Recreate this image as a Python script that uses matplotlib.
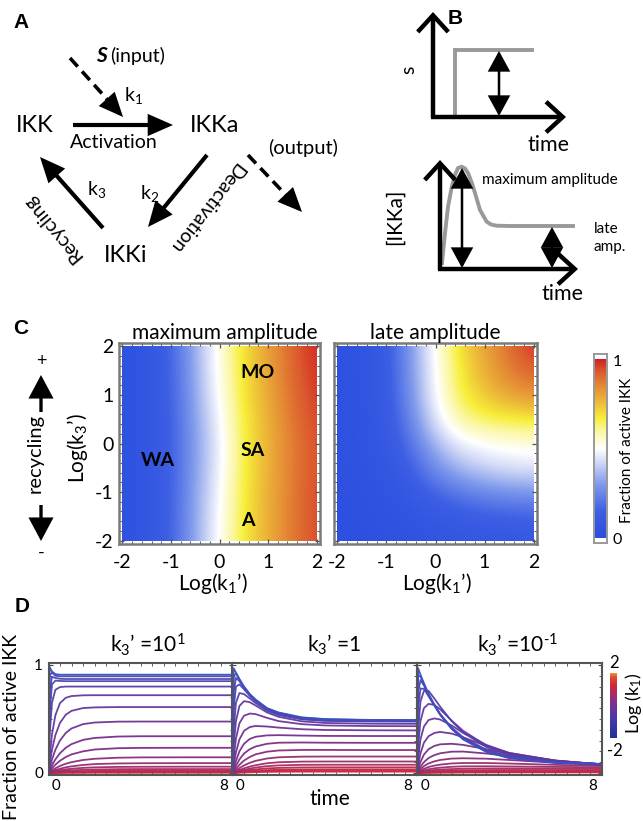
import numpy as np
import matplotlib
matplotlib.use('Agg')
import matplotlib.pyplot as plt
from matplotlib.colors import LinearSegmentedColormap
from matplotlib.patches import Rectangle
from matplotlib.ticker import MultipleLocator

plt.rcParams['font.family'] = ['Lato', 'DejaVu Sans']
plt.rcParams['mathtext.fontset'] = 'custom'
plt.rcParams['mathtext.rm'] = 'Lato'
plt.rcParams['mathtext.it'] = 'Lato:italic'
plt.rcParams['mathtext.bf'] = 'Lato:bold'

W, H = 643, 821

#################################################################
# donnees panneau C (cartes de chaleur)

log_k1 = [-2, -1.5, -1, -0.5, 0, 0.5, 1, 1.5, 2]
log_k3_max = [-2, -1, 0, 1, 2]
max_amp = [
    [0.03, 0.07, 0.15, 0.33, 0.51, 0.68, 0.78, 0.88, 0.95],
    [0.03, 0.07, 0.15, 0.32, 0.49, 0.68, 0.78, 0.88, 0.95],
    [0.03, 0.07, 0.14, 0.30, 0.46, 0.66, 0.77, 0.87, 0.94],
    [0.03, 0.07, 0.15, 0.33, 0.51, 0.69, 0.79, 0.90, 0.97],
    [0.03, 0.07, 0.16, 0.34, 0.53, 0.70, 0.81, 0.92, 0.99],
]
log_k3_late = [-2, -1.5, -1, -0.5, 0, 0.5, 1, 1.5, 2]
late_amp = [
    [0.02, 0.02, 0.03, 0.04, 0.06, 0.07, 0.08, 0.08, 0.09],
    [0.02, 0.03, 0.04, 0.06, 0.09, 0.12, 0.14, 0.15, 0.16],
    [0.02, 0.03, 0.05, 0.10, 0.17, 0.22, 0.26, 0.28, 0.29],
    [0.03, 0.04, 0.07, 0.15, 0.27, 0.36, 0.41, 0.44, 0.45],
    [0.03, 0.05, 0.09, 0.20, 0.36, 0.47, 0.50, 0.52, 0.53],
    [0.03, 0.05, 0.10, 0.25, 0.45, 0.60, 0.65, 0.67, 0.68],
    [0.03, 0.05, 0.11, 0.28, 0.49, 0.66, 0.74, 0.80, 0.84],
    [0.03, 0.05, 0.11, 0.29, 0.50, 0.68, 0.78, 0.87, 0.92],
    [0.03, 0.05, 0.12, 0.30, 0.51, 0.70, 0.80, 0.90, 0.98],
]
heat_ticks = [-2, -1, 0, 1, 2]
heat_titles = ['maximum amplitude', 'late amplitude']

#################################################################
# donnees panneau D (cinetiques)

t_sim = [0, 0.05, 0.15, 0.3, 0.5, 0.75, 1, 1.5, 2, 3, 4, 6, 8]

curves_k3_10 = [
    [0, .98, .94, .915, .91, .91, .91, .91, .91, .91, .91, .91, .91],
    [0, .90, .93, .900, .895, .895, .895, .895, .895, .895, .895, .895, .895],
    [0, .75, .89, .880, .872, .87, .87, .87, .87, .87, .87, .87, .87],
    [0, .55, .82, .855, .852, .85, .85, .85, .85, .85, .85, .85, .85],
    [0, .35, .65, .770, .795, .80, .80, .80, .80, .80, .80, .80, .80],
    [0, .146, .355, .535, .647, .696, .712, .719, .72, .72, .72, .72, .72],
    [0, .081, .213, .351, .464, .539, .575, .601, .607, .61, .61, .61, .61],
    [0, .045, .123, .215, .301, .370, .412, .452, .467, .475, .476, .476, .476],
    [0, .025, .070, .126, .183, .233, .267, .306, .324, .337, .34, .34, .34],
    [0, .015, .042, .077, .113, .147, .172, .200, .217, .229, .232, .233, .233],
    [0, .008, .023, .043, .065, .085, .100, .120, .131, .141, .144, .145, .145],
    [0, .005, .015, .026, .039, .052, .061, .074, .082, .088, .090, .091, .091],
    [0, .003, .009, .017, .025, .033, .039, .047, .052, .056, .057, .058, .058],
    [0, .002, .006, .010, .015, .021, .024, .029, .032, .035, .036, .036, .036],
    [0, .001, .003, .006, .009, .012, .014, .017, .019, .020, .021, .021, .021],
    [0, .001, .002, .003, .005, .007, .008, .010, .011, .012, .012, .012, .012],
    [0, 0, .001, .002, .003, .004, .004, .005, .006, .006, .006, .006, .006],
    [0, 0, 0, .001, .001, .002, .002, .002, .003, .003, .003, .003, .003],
]

curves_k3_1 = [
    [0, .97, .93, .87, .80, .73, .68, .60, .56, .515, .499, .491, .49],
    [0, .90, .92, .865, .795, .727, .676, .597, .556, .512, .497, .489, .488],
    [0, .75, .88, .85, .79, .722, .672, .594, .552, .508, .493, .486, .485],
    [0, .60, .80, .82, .775, .713, .664, .587, .545, .502, .487, .481, .48],
    [0, .40, .65, .74, .73, .69, .648, .576, .536, .496, .482, .477, .476],
    [0, .25, .48, .62, .665, .655, .625, .56, .52, .478, .463, .456, .455],
    [0, .13, .32, .46, .53, .55, .545, .51, .48, .452, .440, .434, .433],
    [0, .07, .19, .31, .39, .425, .435, .43, .42, .405, .398, .395, .394],
    [0, .04, .11, .20, .27, .315, .335, .348, .35, .346, .343, .342, .342],
    [0, .02, .065, .125, .18, .22, .245, .27, .28, .282, .28, .279, .279],
    [0, .012, .038, .075, .115, .148, .172, .197, .208, .213, .213, .212, .212],
    [0, .007, .022, .045, .07, .094, .112, .134, .145, .151, .152, .152, .152],
    [0, .004, .013, .027, .043, .059, .072, .09, .099, .105, .106, .106, .106],
    [0, .003, .009, .018, .029, .04, .05, .063, .07, .075, .076, .076, .076],
    [0, .002, .006, .012, .019, .027, .033, .042, .047, .051, .052, .052, .052],
    [0, .001, .004, .008, .012, .017, .021, .026, .03, .032, .033, .033, .033],
    [0, .001, .002, .005, .008, .011, .013, .017, .019, .021, .021, .021, .021],
    [0, 0, .001, .003, .004, .006, .008, .01, .011, .012, .012, .012, .012],
]

curves_k3_01 = [
    [0, .97, .91, .83, .73, .63, .54, .41, .31, .195, .137, .094, .083],
    [0, .90, .895, .825, .73, .63, .542, .41, .315, .20, .14, .095, .083],
    [0, .75, .86, .81, .725, .63, .545, .415, .32, .205, .145, .097, .082],
    [0, .60, .78, .78, .71, .625, .545, .42, .33, .215, .152, .10, .082],
    [0, .40, .66, .76, .76, .69, .615, .48, .375, .24, .165, .105, .082],
    [0, .25, .48, .60, .64, .63, .59, .485, .39, .255, .178, .11, .081],
    [0, .13, .31, .43, .49, .505, .495, .44, .37, .26, .185, .113, .08],
    [0, .07, .18, .28, .34, .37, .38, .365, .33, .25, .185, .115, .079],
    [0, .04, .10, .17, .22, .25, .265, .27, .26, .22, .175, .115, .078],
    [0, .02, .058, .10, .138, .165, .182, .197, .198, .18, .155, .108, .076],
    [0, .012, .035, .063, .088, .107, .12, .133, .136, .132, .12, .095, .072],
    [0, .007, .02, .038, .055, .068, .077, .088, .092, .092, .087, .075, .065],
    [0, .004, .012, .023, .034, .043, .049, .057, .061, .062, .06, .056, .052],
    [0, .002, .007, .014, .021, .027, .031, .036, .039, .041, .041, .04, .039],
    [0, .001, .004, .008, .012, .016, .019, .022, .024, .026, .027, .027, .027],
    [0, .001, .002, .005, .007, .009, .011, .013, .014, .015, .016, .016, .017],
    [0, 0, .001, .002, .004, .005, .006, .007, .008, .009, .009, .009, .01],
    [0, 0, .001, .001, .002, .002, .003, .003, .004, .004, .005, .005, .005],
]
kin_titles = [r"k$_3$’ =10$^{1}$", r"k$_3$’ =1", "k$_3$’ =10$^{\u20101}$"]

#################################################################
# schemas du panneau B (en pixels)

step_x = [455, 455, 532]
step_y = [115, 50, 50]
pulse_x = [442, 445, 448, 451.7, 455, 458, 461.7, 465, 468, 471.5, 475, 480, 486.7, 491, 496.7, 510, 573]
pulse_y = [263, 233, 207, 187, 175, 168, 166.7, 168.5, 173, 182, 193, 210, 221.7, 224.5, 225.7, 226, 226]

#################################################################
# palettes

heat_cmap = LinearSegmentedColormap.from_list('heat', [
    (0.0, '#2b4ee0'), (0.15, '#3d5fe4'), (0.3, '#809aec'), (0.42, '#cfd8f6'),
    (0.5, '#ffffff'), (0.6, '#fbf7a0'), (0.67, '#f7ef3a'), (0.75, '#eec038'),
    (0.85, '#e58a35'), (0.93, '#dc5a2e'), (1.0, '#d21e22')])
kin_cmap = LinearSegmentedColormap.from_list('kin', [
    (0.0, '#22309c'), (0.3, '#4a3aa8'), (0.55, '#84308c'), (0.8, '#d02a3a'),
    (0.92, '#e04a30'), (1.0, '#f5a040')])
line_cmap = LinearSegmentedColormap.from_list('lines', [
    '#3c50c0', '#5a3ca8', '#7a2c88', '#a82a60', '#d42838'])


def px_axes(x0, y0, x1, y1):
    return fig.add_axes([x0 / W, 1 - y1 / H, (x1 - x0) / W, (y1 - y0) / H])


fig = plt.figure(figsize=(W / 100, H / 100), dpi=100)

#################################################################
# C : cartes de chaleur

heat_boxes = [(119, 343, 320, 544), (334, 343, 537, 544)]
heat_data = [(log_k3_max, max_amp), (log_k3_late, late_amp)]
for i, (box, (yy, zz)) in enumerate(zip(heat_boxes, heat_data)):
    ax = px_axes(*box)
    zz = np.array(zz)
    dx = (log_k1[1] - log_k1[0]) / 2
    dy = (yy[1] - yy[0]) / 2
    im = ax.imshow(zz, origin='lower', cmap=heat_cmap, vmin=0, vmax=1,
                   extent=[log_k1[0] - dx, log_k1[-1] + dx, yy[0] - dy, yy[-1] + dy],
                   interpolation='bicubic', aspect='auto')
    im.set_clip_path(Rectangle((-2, -2), 4, 4, transform=ax.transData))
    ax.set_xlim(-2.07, 2.07)
    ax.set_ylim(-2.07, 2.07)
    ax.set_xticks(heat_ticks)
    ax.set_xticklabels([str(v) for v in heat_ticks], fontsize=14)
    ax.set_yticks(heat_ticks)
    if i == 0:
        ax.set_yticklabels([str(v) for v in heat_ticks], fontsize=14)
    else:
        ax.set_yticklabels([])
    ax.xaxis.set_minor_locator(MultipleLocator(0.2))
    ax.yaxis.set_minor_locator(MultipleLocator(0.2))
    ax.tick_params(which='both', direction='in', top=True, right=True, color='#555')
    ax.tick_params(which='major', length=3.5, width=0.9)
    ax.tick_params(which='minor', length=2, width=0.7)
    ax.tick_params(axis='x', pad=7)
    ax.tick_params(axis='y', pad=4)
    for sp in ax.spines.values():
        sp.set_color('#7a7a7a')
        sp.set_linewidth(1.8)

# barre de couleur C
cax = px_axes(594, 354, 607, 543)
grad = np.linspace(0, 1, 256).reshape(-1, 1)
cax.imshow(grad, origin='lower', cmap=heat_cmap, aspect='auto', extent=[0, 1, 0, 1])
cax.set_xlim(0, 1)
cax.set_ylim(-0.03, 1.03)
cax.set_xticks([])
cax.set_yticks([])
for sp in cax.spines.values():
    sp.set_color('#999')
    sp.set_linewidth(1.4)

#################################################################
# D : cinetiques

kin_boxes = [(48.5, 662.7, 232.5, 775), (232.5, 662.7, 417, 775), (417, 662.7, 601.6, 775)]
for j, (box, curves) in enumerate(zip(kin_boxes, [curves_k3_10, curves_k3_1, curves_k3_01])):
    ax = px_axes(*box)
    n = len(curves)
    for i in range(n - 1, -1, -1):
        ax.plot(t_sim, curves[i], color=line_cmap(i / (n - 1)), lw=1.3, alpha=0.95,
                solid_joinstyle='round')
    ax.set_xlim(0, 8)
    ax.set_ylim(-0.019, 1.021)
    ax.set_xticks([0, 8])
    lab = ax.set_xticklabels([' 0', '8 '], fontsize=11)
    lab[0].set_ha('left')
    lab[1].set_ha('right')
    ax.set_yticks([0, 1])
    if j == 0:
        ax.set_yticklabels(['0', '1'], fontsize=11)
    else:
        ax.set_yticklabels([])
    ax.xaxis.set_minor_locator(MultipleLocator(0.5))
    ax.yaxis.set_minor_locator(MultipleLocator(0.1))
    ax.tick_params(which='both', direction='in', top=True, right=True, color='#444')
    ax.tick_params(which='major', length=3, width=0.8)
    ax.tick_params(which='minor', length=2, width=0.6)
    ax.tick_params(axis='x', pad=3)
    ax.tick_params(axis='y', pad=4)
    for sp in ax.spines.values():
        sp.set_color('#555')
        sp.set_linewidth(1.5)

# barre de couleur D
dax = px_axes(610, 673, 617, 738)
dax.imshow(grad, origin='lower', cmap=kin_cmap, aspect='auto', extent=[0, 1, 0, 1])
dax.set_xlim(0, 1)
dax.set_ylim(0, 1)
dax.set_xticks([])
dax.set_yticks([])
for sp in dax.spines.values():
    sp.set_visible(False)

#################################################################
# calque de dessin en pixels (schemas, etiquettes)

ax0 = fig.add_axes([0, 0, 1, 1])
ax0.set_xlim(0, W)
ax0.set_ylim(H, 0)
ax0.axis('off')
ax0.patch.set_alpha(0)

TETE = '-|>,head_length=0.5,head_width=0.22'


def fleche(x0, y0, x1, y1, style=TETE, lw=3.0, ms=26, color='k'):
    ax0.annotate('', xy=(x1, y1), xytext=(x0, y0),
                 arrowprops=dict(arrowstyle=style, lw=lw, color=color, mutation_scale=ms,
                                 shrinkA=0, shrinkB=0, joinstyle='miter', capstyle='butt'))


def fleche_tirets(x0, y0, x1, y1, lw=2.6, tete=17):
    # trait en tirets puis tete pleine
    d = np.hypot(x1 - x0, y1 - y0)
    ux, uy = (x1 - x0) / d, (y1 - y0) / d
    xm, ym = x1 - ux * (tete - 2), y1 - uy * (tete - 2)
    ax0.plot([x0, xm], [y0, ym], color='k', lw=lw, dashes=(3.2, 1.8), solid_capstyle='butt',
             dash_capstyle='butt')
    fleche(xm - ux * 3, ym - uy * 3, x1, y1, lw=lw)


def texte(x, y, s, size=14, **kw):
    ax0.text(x, y, s, fontsize=size, ha=kw.pop('ha', 'center'), va=kw.pop('va', 'center'), **kw)


lbl = dict(fontsize=15, fontweight='bold', family=['Liberation Sans', 'DejaVu Sans'],
           ha='center', va='center')
ax0.text(21, 22, 'A', **lbl)
ax0.text(455, 19, 'B', **lbl)
ax0.text(21, 328, 'C', **lbl)
ax0.text(22, 607, 'D', **lbl)

# A : schema IKK
fleche_tirets(70, 58, 123, 117)
fleche(73, 125, 173, 125)
fleche(207, 155, 148, 227)
fleche(103, 228, 40, 157)
fleche_tirets(248, 155, 302, 212)

texte(101, 56, 'S', size=15, fontweight='bold', style='italic')
texte(110, 56, '(input)', size=14, ha='left')
texte(134, 96, r'k$_1$', size=14)
texte(35, 126, 'IKK', size=17)
texte(215, 126, 'IKKa', size=17)
texte(114, 142, 'Activation', size=14)
texte(303, 148, '(output)', size=14.5)
texte(97, 190, r'k$_3$', size=14)
texte(150, 193, r'k$_2$', size=14)
texte(206, 207, 'Deactivation', size=14, rotation=-128, rotation_mode='anchor')
texte(53, 228, 'Recycling', size=14, rotation=130, rotation_mode='anchor')
texte(126, 256, 'IKKi', size=17)

# B : schemas stimulus / reponse
axe_style = '->,head_length=0.6,head_width=0.55'
fleche(433, 118, 433, 12, style=axe_style, lw=3.2, ms=20)
fleche(431, 117, 566, 117, style=axe_style, lw=3.2, ms=20)
fleche(440, 270, 440, 160, style=axe_style, lw=3.2, ms=20)
fleche(438, 269, 578, 269, style=axe_style, lw=3.2, ms=20)
ax0.plot(step_x, step_y, color='#999999', lw=2.8, solid_joinstyle='miter')
ax0.plot(pulse_x, pulse_y, color='#999999', lw=2.8, solid_joinstyle='round')
dbl = '<|-|>,head_length=0.55,head_width=0.3'
fleche(499, 51, 499, 116, style=dbl, lw=1.8, ms=22)
fleche(462, 168, 462, 268, style=dbl, lw=1.8, ms=22)
fleche(552, 227, 552, 268, style=dbl, lw=1.8, ms=22)
texte(409, 70, 's', size=14, rotation=90)
texte(549, 145, 'time', size=15.5)
texte(395, 217, '[IKKa]', size=15, rotation=90)
texte(550, 180, 'maximum amplitude', size=11)
texte(606, 229, 'late', size=11)
texte(610, 247, 'amp.', size=11)
texte(563, 294, 'time', size=15.5)

# C : etiquettes
texte(225, 333, heat_titles[0], size=15)
texte(435, 333, heat_titles[1], size=15)
texte(213, 583, r'Log(k$_1$’)', size=15)
texte(437, 583, r'Log(k$_1$’)', size=15)
texte(77, 448, r'Log(k$_3$’)', size=15, rotation=90)
for s, x, y in [('WA', 158, 461), ('SA', 253, 451), ('MO', 258, 373), ('A', 248, 520)]:
    texte(x, y, s, size=14, fontweight='bold')
texte(41, 361, '+', size=13)
fleche(41, 412, 41, 375, lw=2.4, ms=22, style='-|>,head_length=0.6,head_width=0.32')
texte(35, 453, 'recycling', size=14.5, rotation=90)
fleche(41, 505, 41, 541, lw=2.4, ms=22, style='-|>,head_length=0.6,head_width=0.32')
texte(41, 553, '-', size=13)
texte(617, 362, '1', size=11.5)
texte(617, 540, '0', size=11.5)
texte(627, 450, 'Fraction of active IKK', size=11, rotation=90)

# D : etiquettes
for s, x in zip(kin_titles, [148, 334, 518]):
    texte(x, 645, s, size=15)
texte(330, 799, 'time', size=15)
texte(12, 727, 'Fraction of active IKK', size=14, rotation=90)
texte(614, 663, '2', size=12)
texte(615, 751, '-2', size=12)
texte(633, 703, r'Log (k$_1$)', size=13, rotation=90)

fig.savefig('out.png', dpi=100)
